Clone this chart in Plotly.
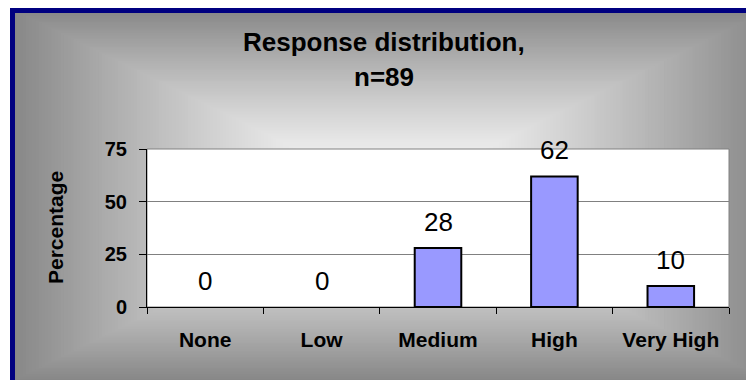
import plotly.graph_objects as go

# Response levels and the share of respondents (%) for each
categories = ["None", "Low", "Medium", "High", "Very High"]
percentages = [0, 0, 28, 62, 10]
y_ticks = [0, 25, 50, 75]
title_lines = ["Response distribution,", "n=89"]
y_title = "Percentage"

FONT = "Liberation Sans, Arial, sans-serif"
W, H = 746, 380
L, R, T, B = 147, 17, 149, 73
pw = W - L - R
ph = H - T - B


def px_x(px):
    """Horizontal pixel position -> paper coordinate."""
    return (px - L) / pw


def px_y(py):
    """Vertical pixel position (from top) -> paper coordinate."""
    return (H - B - py) / ph


# Chart-area box (pixels) with a rectangular centre-out gray gradient
ax0, ay0, ax1, ay1 = 10, 8, 772, 382
cx, cy = (ax0 + ax1) / 2, (ay0 + ay1) / 2
hw, hh = (ax1 - ax0) / 2, (ay1 - ay0) / 2

shapes = []
steps = 120
for k in range(steps):
    t = 1 - k / steps
    g = round(255 - (255 - 134) * t ** 1.3)
    shapes.append(dict(
        type="rect", xref="paper", yref="paper", layer="below",
        x0=px_x(max(cx - t * hw, 15)), x1=px_x(cx + t * hw + (8 if k == 0 else 0)),
        y0=px_y(cy + t * hh + (8 if k == 0 else 0)), y1=px_y(max(cy - t * hh, 13)),
        fillcolor=f"rgb({g},{g},{g})", line=dict(width=0),
    ))

# Navy frame edges (top and left are the ones inside the canvas)
shapes.append(dict(
    type="rect", xref="paper", yref="paper", layer="below",
    x0=px_x(ax0), x1=px_x(ax1 + 8), y0=px_y(ay0 + 5), y1=px_y(ay0),
    fillcolor="#000080", line=dict(width=0),
))
shapes.append(dict(
    type="rect", xref="paper", yref="paper", layer="below",
    x0=px_x(ax0), x1=px_x(ax0 + 5), y0=px_y(ay1 + 8), y1=px_y(ay0),
    fillcolor="#000080", line=dict(width=0),
))

# White plot area with a gray border
shapes.append(dict(
    type="rect", xref="paper", yref="paper", layer="below",
    x0=0, x1=1, y0=0, y1=1,
    fillcolor="white", line=dict(color="#808080", width=1),
))

fig = go.Figure()
fig.add_trace(go.Bar(
    x=categories, y=percentages,
    marker=dict(
        color="#9999FF",
        line=dict(color="black", width=[2 if v > 0 else 0 for v in percentages]),
    ),
    hoverinfo="skip",
))

annotations = []
for c, v in zip(categories, percentages):
    annotations.append(dict(
        x=c, y=v, xref="x", yref="y", text=str(v), showarrow=False,
        yanchor="middle", yshift=26,
        font=dict(family=FONT, size=26, color="black"),
    ))

for line, py in zip(title_lines, [42, 77]):
    annotations.append(dict(
        x=px_x(384), y=px_y(py), xref="paper", yref="paper",
        text=line, showarrow=False, xanchor="center", yanchor="middle",
        font=dict(family=FONT, size=26, color="black", weight="bold"),
    ))

annotations.append(dict(
    x=px_x(55), y=0.5, xref="paper", yref="paper",
    text=y_title, showarrow=False, textangle=-90,
    xanchor="center", yanchor="middle",
    font=dict(family=FONT, size=21, color="black", weight="bold"),
))

fig.update_layout(
    width=W, height=H,
    margin=dict(l=L, r=R, t=T, b=B, pad=0),
    paper_bgcolor="white",
    plot_bgcolor="rgba(0,0,0,0)",
    showlegend=False,
    bargap=0.6,
    shapes=shapes,
    annotations=annotations,
    xaxis=dict(
        type="category", tickson="boundaries",
        ticks="outside", ticklen=6, tickcolor="black", tickwidth=1,
        showline=True, linecolor="black", linewidth=1,
        showgrid=False, zeroline=False,
        ticklabelstandoff=14,
        tickfont=dict(family=FONT, size=21, color="black", weight="bold"),
    ),
    yaxis=dict(
        range=[0, 75], tickvals=y_ticks,
        ticks="outside", ticklen=7, tickcolor="black", tickwidth=1,
        showline=True, linecolor="black", linewidth=1,
        showgrid=True, gridcolor="#808080", gridwidth=1,
        zeroline=False, ticklabelstandoff=8,
        tickfont=dict(family=FONT, size=20, color="black", weight="bold"),
    ),
)

fig.write_html("out.html")
